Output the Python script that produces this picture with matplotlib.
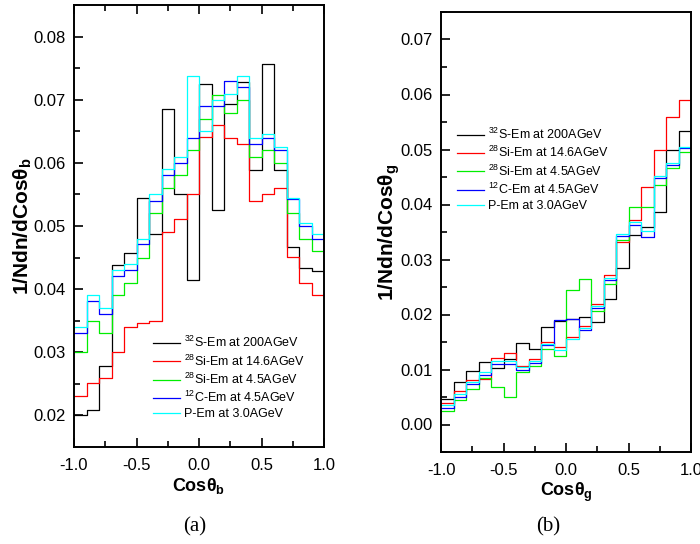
import matplotlib
matplotlib.use('Agg')
import matplotlib.pyplot as plt
from matplotlib.ticker import MultipleLocator

plt.rcParams['font.family'] = ['Liberation Sans', 'DejaVu Sans']
plt.rcParams['mathtext.fontset'] = 'custom'
plt.rcParams['mathtext.rm'] = 'Liberation Sans'
plt.rcParams['mathtext.it'] = 'Liberation Sans:italic'
plt.rcParams['mathtext.bf'] = 'Liberation Sans:bold'
plt.rcParams['axes.unicode_minus'] = False

# bin edges in cos(theta); last value of each series is the closing step at x = 1.0
cos_edges = [-1.0, -0.9, -0.8, -0.7, -0.6, -0.5, -0.4, -0.3, -0.2, -0.1, 0.0,
             0.1, 0.2, 0.3, 0.4, 0.5, 0.6, 0.7, 0.8, 0.9, 1.0]

labels = ['$^{32}$S-Em at 200AGeV', '$^{28}$Si-Em at 14.6AGeV',
          '$^{28}$Si-Em at 4.5AGeV', '$^{12}$C-Em at 4.5AGeV', 'P-Em at 3.0AGeV']
colors = ['#000000', '#ff0000', '#00ee00', '#0000ff', '#00ffff']

# (a) black particles, cos(theta_b)
s200_b = [0.0201, 0.0208, 0.0278, 0.0438, 0.0457, 0.0545, 0.0488, 0.0686, 0.0550, 0.0414, 0.0725,
          0.0526, 0.0694, 0.0728, 0.0588, 0.0756, 0.0588, 0.0466, 0.0433, 0.0429, 0.0429]
si146_b = [0.0230, 0.0251, 0.0260, 0.0300, 0.0340, 0.0347, 0.0350, 0.0490, 0.0511, 0.0550, 0.0641,
           0.0660, 0.0640, 0.0630, 0.0540, 0.0550, 0.0560, 0.0451, 0.0410, 0.0390, 0.0360]
si45_b = [0.0300, 0.0349, 0.0331, 0.0390, 0.0410, 0.0450, 0.0520, 0.0560, 0.0580, 0.0620, 0.0670,
          0.0708, 0.0679, 0.0700, 0.0610, 0.0620, 0.0600, 0.0520, 0.0480, 0.0460, 0.0430]
c45_b = [0.0331, 0.0381, 0.0361, 0.0421, 0.0431, 0.0471, 0.0540, 0.0580, 0.0600, 0.0640, 0.0690,
         0.0690, 0.0729, 0.0720, 0.0630, 0.0640, 0.0620, 0.0542, 0.0500, 0.0480, 0.0455]
p30_b = [0.0340, 0.0390, 0.0370, 0.0430, 0.0440, 0.0480, 0.0550, 0.0590, 0.0610, 0.0738, 0.0650,
         0.0700, 0.0709, 0.0738, 0.0640, 0.0645, 0.0625, 0.0545, 0.0505, 0.0487, 0.0460]

# (b) grey particles, cos(theta_g)
s200_g = [0.0047, 0.0078, 0.0097, 0.0113, 0.0103, 0.0119, 0.0149, 0.0138, 0.0178, 0.0188, 0.0192,
          0.0195, 0.0187, 0.0229, 0.0285, 0.0344, 0.0359, 0.0387, 0.0500, 0.0533, 0.0533]
si146_g = [0.0040, 0.0061, 0.0081, 0.0082, 0.0121, 0.0130, 0.0107, 0.0120, 0.0150, 0.0141, 0.0160,
           0.0180, 0.0220, 0.0271, 0.0332, 0.0371, 0.0431, 0.0500, 0.0560, 0.0590, 0.0640]
si45_g = [0.0025, 0.0045, 0.0065, 0.0085, 0.0068, 0.0050, 0.0096, 0.0107, 0.0137, 0.0125, 0.0245,
          0.0265, 0.0206, 0.0256, 0.0336, 0.0396, 0.0396, 0.0436, 0.0466, 0.0496, 0.0496]
c45_g = [0.0030, 0.0050, 0.0073, 0.0090, 0.0110, 0.0110, 0.0100, 0.0112, 0.0144, 0.0190, 0.0191,
         0.0171, 0.0212, 0.0262, 0.0342, 0.0362, 0.0341, 0.0448, 0.0472, 0.0502, 0.0502]
p30_g = [0.0035, 0.0055, 0.0077, 0.0095, 0.0116, 0.0115, 0.0104, 0.0116, 0.0147, 0.0136, 0.0156,
         0.0176, 0.0216, 0.0267, 0.0347, 0.0368, 0.0351, 0.0451, 0.0476, 0.0505, 0.0590]

fig = plt.figure(figsize=(7.0, 5.44), dpi=100)
ax1 = fig.add_axes([74 / 700, 97 / 544, 250 / 700, 442 / 544])
ax2 = fig.add_axes([441 / 700, 92 / 544, 250 / 700, 440 / 544])


def style_axis(ax, top_ticks):
    for sp in ax.spines.values():
        sp.set_linewidth(1.4)
    ax.set_xlim(-1.0, 1.0)
    ax.xaxis.set_major_locator(MultipleLocator(0.5))
    ax.xaxis.set_minor_locator(MultipleLocator(0.25))
    ax.tick_params(which='both', direction='in', top=top_ticks, right=False,
                   labelsize=12, pad=6, width=1.2)
    ax.tick_params(axis='x', which='both', pad=8)
    ax.tick_params(which='major', length=6.5)
    ax.tick_params(which='minor', length=4)


# panel (a)
for vals, c, lab in zip([s200_b, si146_b, si45_b, c45_b, p30_b], colors, labels):
    ax1.step(cos_edges, vals, where='post', color=c, lw=0.9, label=lab)
style_axis(ax1, True)
ax1.set_ylim(0.015, 0.085)
ax1.yaxis.set_major_locator(MultipleLocator(0.01))
ax1.yaxis.set_minor_locator(MultipleLocator(0.005))
ax1.yaxis.set_major_formatter(plt.FormatStrFormatter('%.2f'))
ax1.set_xlabel('Cosθ$_\\mathbf{b}$', fontsize=13, fontweight='bold', labelpad=2)
ax1.set_ylabel('1/Ndn/dCosθ$_\\mathbf{b}$', fontsize=15, fontweight='bold')
ax1.yaxis.set_label_coords(-0.162, 0.5)
ax1.legend(loc='lower left', bbox_to_anchor=(0.315, 0.06), frameon=False, fontsize=9,
           handlelength=2.2, handletextpad=0.3, labelspacing=0.25, borderpad=0,
           borderaxespad=0)

# panel (b)
for vals, c, lab in zip([s200_g, si146_g, si45_g, c45_g, p30_g], colors, labels):
    ax2.step(cos_edges, vals, where='post', color=c, lw=0.9, label=lab)
style_axis(ax2, False)
ax2.set_ylim(-0.005, 0.075)
ax2.yaxis.set_major_locator(MultipleLocator(0.01))
ax2.yaxis.set_minor_locator(MultipleLocator(0.005))
ax2.yaxis.set_major_formatter(plt.FormatStrFormatter('%.2f'))
ax2.set_xlabel('Cosθ$_\\mathbf{g}$', fontsize=13, fontweight='bold', labelpad=2)
ax2.set_ylabel('1/Ndn/dCosθ$_\\mathbf{g}$', fontsize=15, fontweight='bold')
ax2.yaxis.set_label_coords(-0.154, 0.5)
ax2.legend(loc='lower left', bbox_to_anchor=(0.063, 0.545), frameon=False, fontsize=9,
           handlelength=2.2, handletextpad=0.3, labelspacing=0.25, borderpad=0,
           borderaxespad=0)

fig.text(195 / 700, 1 - 527 / 544, '(a)', family='Liberation Serif', fontsize=15,
         ha='center', va='center')
fig.text(548 / 700, 1 - 527 / 544, '(b)', family='Liberation Serif', fontsize=15,
         ha='center', va='center')

fig.savefig('out.png', dpi=100)
